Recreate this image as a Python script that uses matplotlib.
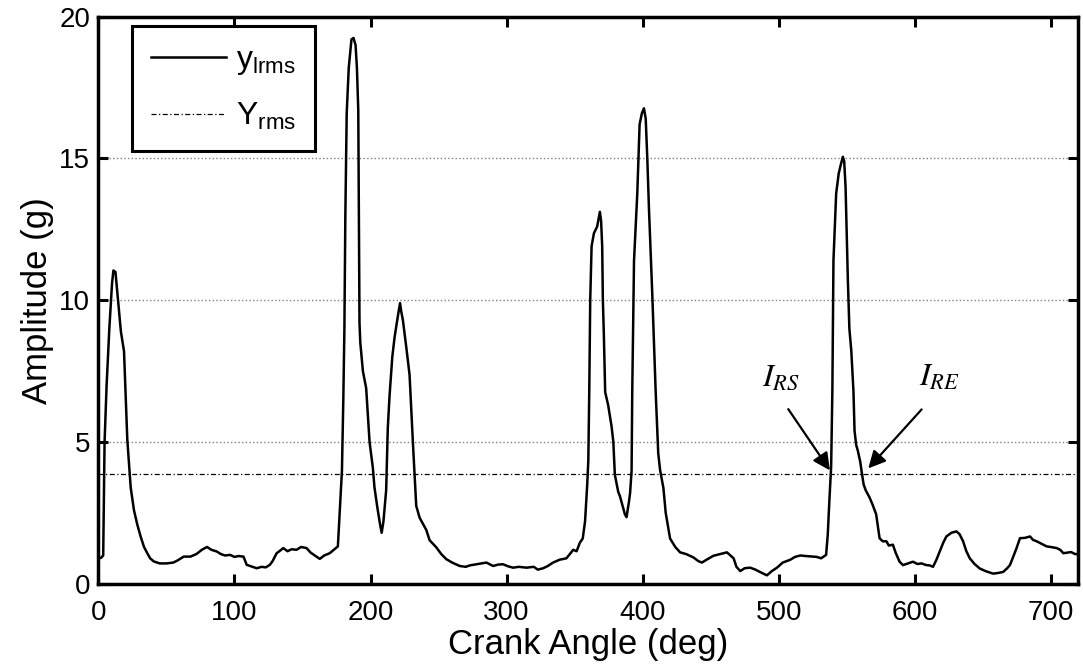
import matplotlib
matplotlib.use('Agg')
import matplotlib.pyplot as plt

plt.rcParams['font.family'] = ['Liberation Sans', 'DejaVu Sans']
plt.rcParams['mathtext.fontset'] = 'custom'
plt.rcParams['mathtext.rm'] = 'Liberation Sans'
plt.rcParams['mathtext.it'] = 'Liberation Sans:italic'

# crank angle (deg) and local rms amplitude (g)
crank_angle = [
    0, 2, 3.5, 4, 4.5, 6, 8, 10, 11, 12.5, 14, 16.5, 18.8, 21.2, 23.7, 26.1, 28.5, 31,
    33.5, 35.9, 38, 40.7, 45, 50, 55, 58, 62.7, 67.6, 72, 76, 79.8, 83, 87, 90, 93,
    96.8, 100, 103, 106.6, 109, 112, 116.3, 120, 123, 126, 128, 131, 133, 135.9, 139,
    142, 145.6, 149, 153, 156, 159, 162.7, 166, 170, 173, 176, 177.3, 179, 180, 180.8,
    181.5, 182.5, 184, 186, 187.5, 189, 190, 191, 191.9, 192.5, 194.4, 196.8, 199.3,
    201.7, 202.9, 205, 207, 208.2, 209.5, 211.5, 212.7, 214, 216, 217.7, 220.1, 221.7,
    222.6, 223.8, 226.3, 228.7, 231.2, 233.6, 236.1, 241, 243.4, 248.3, 252, 255.7,
    260, 265.5, 270, 273, 277.8, 281, 285.2, 290.1, 294, 297.4, 301, 304.8, 309, 314.6,
    320, 323, 326.9, 330, 334.2, 339, 344, 349, 351.5, 353.9, 356, 357.7, 359.3, 360.1,
    360.8, 361.5, 362.5, 364.2, 366.6, 368.6, 369.5, 370.3, 370.8, 371.5, 372.5, 374.7,
    377.2, 378.5, 379.6, 382.1, 383.3, 385, 387, 388.2, 390, 390.8, 391.9, 392.4, 393.7,
    396.1, 397.8, 399.5, 401, 402.3, 403.5, 404.7, 407.1, 409.6, 411.5, 412.9, 415.3,
    417, 420.2, 424, 427.6, 432, 437.4, 441, 443.6, 447, 452.1, 457, 462, 466.9, 469,
    471.8, 475, 479.1, 483, 487, 491.4, 495, 498.8, 503, 508.6, 512, 516, 520, 525.1,
    528, 531.2, 534.9, 536.1, 537.3, 538.6, 539.5, 540.3, 542.3, 544.2, 545.8, 547.2,
    548.2, 549.2, 550.9, 552, 553.4, 555, 555.8, 557, 558.2, 560, 561.2, 562.5, 564,
    566.8, 569, 571.7, 573, 574.2, 576.5, 579.2, 581, 584, 586, 588.9, 591.4, 595,
    598.8, 602, 605, 608.6, 611, 613.5, 616, 618.4, 621, 623.3, 627, 630.7, 633, 635.6,
    638, 640.5, 644, 647.9, 652, 657.7, 661, 665.1, 668, 670, 672, 674.9, 677.4, 681,
    684.8, 687, 689.7, 693, 697, 700, 704.4, 707, 709.3, 712, 715, 717.9, 720]
y_lrms = [
    0.9, 0.92, 1.0, 3.0, 5.0, 7.0, 9.0, 10.6, 11.05, 11.0, 10.2, 8.9, 8.2, 5.1, 3.4, 2.6,
    2.1, 1.67, 1.3, 1.08, 0.9, 0.79, 0.72, 0.72, 0.75, 0.82, 0.96, 0.96, 1.05, 1.2, 1.3,
    1.2, 1.14, 1.05, 1.0, 1.02, 0.95, 0.98, 0.96, 0.67, 0.62, 0.55, 0.6, 0.58, 0.67, 0.8,
    1.08, 1.15, 1.26, 1.15, 1.22, 1.2, 1.3, 1.26, 1.1, 1.0, 0.88, 1.0, 1.08, 1.2, 1.32,
    2.5, 4.0, 6.5, 9.0, 13.0, 16.6, 18.2, 19.2, 19.25, 19.0, 18.2, 16.7, 9.2, 8.5, 7.5,
    6.9, 5.0, 4.1, 3.4, 2.7, 2.1, 1.8, 2.2, 3.3, 5.5, 6.64, 8.0, 8.7, 9.44, 9.9, 9.6,
    9.3, 8.34, 7.37, 4.94, 2.75, 2.33, 1.9, 1.54, 1.29, 1.05, 0.87, 0.75, 0.63, 0.6,
    0.65, 0.69, 0.72, 0.75, 0.63, 0.68, 0.69, 0.62, 0.57, 0.6, 0.57, 0.6, 0.5, 0.55,
    0.62, 0.75, 0.85, 0.9, 1.2, 1.15, 1.45, 1.6, 2.2, 3.5, 4.34, 6.8, 10.0, 11.9, 12.36,
    12.6, 13.12, 12.8, 11.9, 10.0, 8.83, 6.76, 6.3, 5.55, 5.0, 3.85, 3.24, 3.1, 2.8,
    2.45, 2.35, 2.9, 3.2, 3.97, 6.8, 11.4, 13.77, 16.2, 16.6, 16.77, 16.4, 14.95, 13.2,
    10.24, 6.8, 4.6, 4.0, 3.38, 2.5, 1.6, 1.3, 1.11, 1.05, 0.93, 0.8, 0.75, 0.85, 0.99,
    1.05, 1.11, 0.9, 0.6, 0.45, 0.55, 0.57, 0.5, 0.4, 0.3, 0.45, 0.57, 0.75, 0.85, 0.95,
    1.0, 0.98, 0.96, 0.95, 0.9, 1.02, 1.73, 2.93, 4.13, 6.8, 11.4, 13.77, 14.48, 14.8,
    15.06, 14.9, 14.0, 10.7, 9.0, 8.23, 6.8, 5.4, 4.9, 4.7, 4.3, 3.9, 3.5, 3.3, 3.05,
    2.8, 2.45, 2.0, 1.61, 1.5, 1.5, 1.35, 1.38, 1.1, 0.78, 0.66, 0.72, 0.78, 0.7, 0.72,
    0.66, 0.65, 0.6, 0.85, 1.14, 1.45, 1.67, 1.8, 1.85, 1.75, 1.5, 1.15, 0.9, 0.7, 0.54,
    0.45, 0.36, 0.38, 0.42, 0.55, 0.66, 0.9, 1.26, 1.61, 1.62, 1.67, 1.55, 1.5, 1.42,
    1.32, 1.3, 1.26, 1.2, 1.08, 1.1, 1.12, 1.05, 1.05]
Y_rms = 3.88

x_ticks = [0, 100, 200, 300, 400, 500, 600, 700]
y_ticks = [0, 5, 10, 15, 20]

fig = plt.figure(figsize=(10.83, 6.68), dpi=100)
ax = fig.add_axes([0.0909, 0.126, 0.9044, 0.849])

ax.plot(crank_angle, y_lrms, color='k', lw=1.8, label=r'$\mathregular{y_{lrms}}$')
ax.axhline(Y_rms, color='k', lw=0.9, ls=(0, (4, 2, 1, 2)), label=r'$\mathregular{Y_{rms}}$')

ax.set_xlim(0, 720)
ax.set_ylim(0, 20)
ax.set_xticks(x_ticks)
ax.set_yticks(y_ticks)
ax.yaxis.grid(True, ls=':', color='#808080', lw=1.0)
ax.set_axisbelow(True)

for s in ax.spines.values():
    s.set_linewidth(2.5)
ax.tick_params(direction='in', top=True, right=True, length=7, width=2.2,
               labelsize=20)
ax.tick_params(axis='x', pad=12)
ax.tick_params(axis='y', pad=6)

ax.set_xlabel('Crank Angle (deg)', fontsize=25, labelpad=1)
ax.set_ylabel('Amplitude (g)', fontsize=25, labelpad=4)

leg = ax.legend(loc='upper left', bbox_to_anchor=(0.034, 0.984), borderaxespad=0,
                fontsize=23, fancybox=False, edgecolor='k', handlelength=2.35,
                borderpad=0.6, labelspacing=0.75, handletextpad=0.3)
leg.get_frame().set_linewidth(2.2)
leg.get_frame().set_alpha(1)

arrow = dict(arrowstyle='-|>', lw=1.6, color='k', mutation_scale=26,
             shrinkA=0, shrinkB=0)
ax.annotate('', xy=(537.7, 4.0), xytext=(507.1, 6.16), arrowprops=arrow)
ax.annotate('', xy=(565.9, 4.07), xytext=(605.1, 6.15), arrowprops=arrow)
ax.text(487.5, 7.0, r'$I_{RS}$', fontsize=23, math_fontfamily='stix',
        ha='left', va='baseline')
ax.text(603.5, 7.0, r'$I_{RE}$', fontsize=23, math_fontfamily='stix',
        ha='left', va='baseline')

fig.savefig('out.png', dpi=100)
